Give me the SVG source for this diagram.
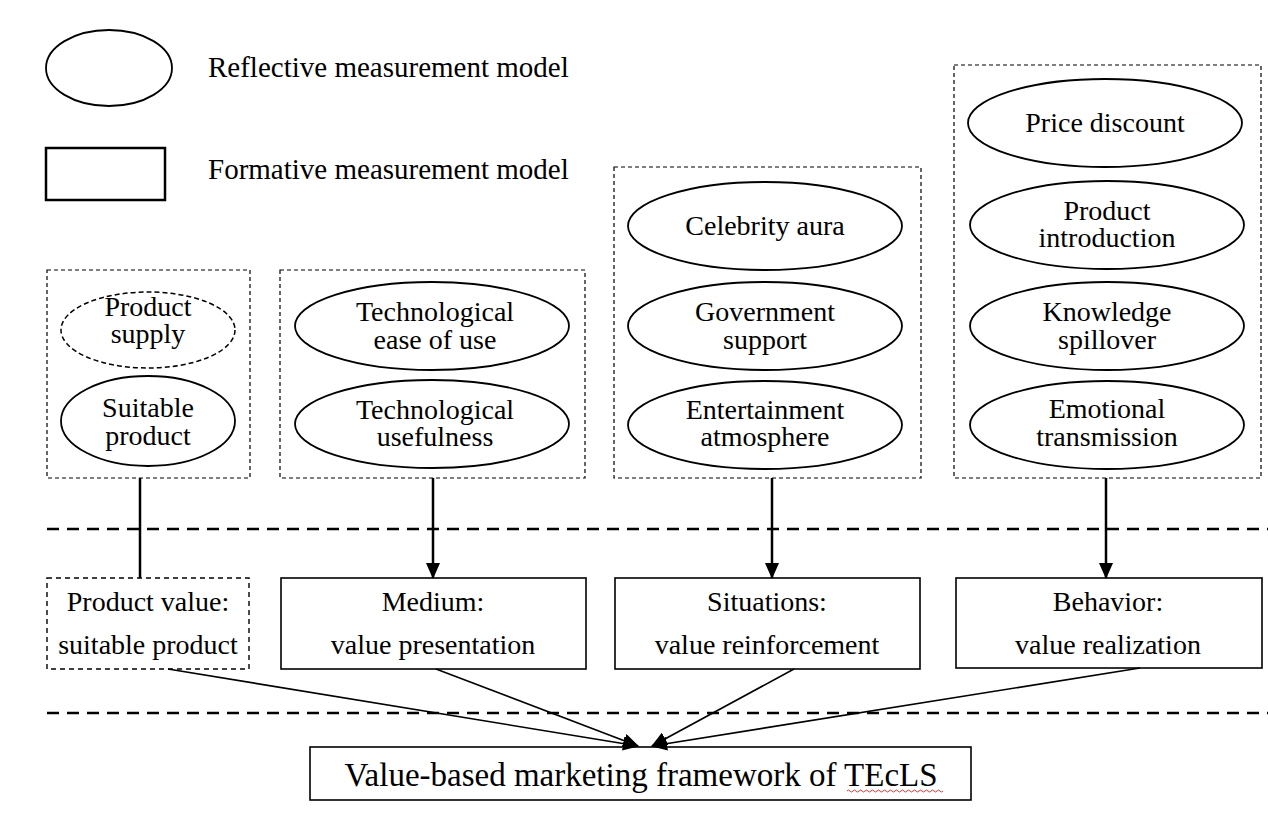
<svg xmlns="http://www.w3.org/2000/svg" width="1268" height="833" viewBox="0 0 1268 833">
<defs>
<marker id="ah" markerWidth="16" markerHeight="14" refX="15" refY="7" orient="auto" markerUnits="userSpaceOnUse">
<path d="M0,0 L16,7 L0,14 Z" fill="#000"/>
</marker>
<style>
text{font-family:"Liberation Serif","Times New Roman",serif;fill:#000;text-anchor:middle;}
.t{font-size:28px;}
.lg{font-size:29px;text-anchor:start;}
.bt{font-size:33px;}
.el{fill:#fff;stroke:#000;stroke-width:1.8;}
.eld{fill:#fff;stroke:#000;stroke-width:1.5;stroke-dasharray:5,3;}
.grp{fill:none;stroke:#000;stroke-width:1.2;stroke-dasharray:4,3;}
.box{fill:#fff;stroke:#000;stroke-width:1.6;}
.boxd{fill:#fff;stroke:#000;stroke-width:1.4;stroke-dasharray:5,4;}
.sep{stroke:#000;stroke-width:2.5;stroke-dasharray:12,8;fill:none;}
.v{stroke:#000;stroke-width:2.5;fill:none;}
.d{stroke:#000;stroke-width:1.6;fill:none;}
</style>
</defs>
<rect width="1268" height="833" fill="#fff"/>

<g id="legend">
<ellipse class="el" cx="109" cy="68" rx="63" ry="38"/>
<text class="lg" x="208" y="77">Reflective measurement model</text>
<rect x="46" y="148" width="119" height="52" fill="#fff" stroke="#000" stroke-width="2.5"/>
<text class="lg" x="208" y="179">Formative measurement model</text>
</g>

<g id="separators">
<line class="sep" x1="47" y1="529" x2="1268" y2="529"/>
<line class="sep" x1="47" y1="713" x2="1268" y2="713"/>
</g>

<g id="group-product">
<rect class="grp" x="47" y="270" width="203" height="208"/>
<g id="product-supply">
<ellipse class="eld" cx="148" cy="330" rx="87" ry="38"/>
<text class="t" x="148" y="316">Product</text>
<text class="t" x="148" y="343">supply</text>
</g>
<g id="suitable-product">
<ellipse class="el" cx="148" cy="421" rx="87" ry="45"/>
<text class="t" x="148" y="417">Suitable</text>
<text class="t" x="148" y="445">product</text>
</g>
</g>

<g id="group-medium">
<rect class="grp" x="280" y="270" width="305" height="208"/>
<g id="tech-ease">
<ellipse class="el" cx="432" cy="326" rx="137" ry="44"/>
<text class="t" x="435" y="321">Technological</text>
<text class="t" x="435" y="349">ease of use</text>
</g>
<g id="tech-usefulness">
<ellipse class="el" cx="432" cy="424" rx="137" ry="44"/>
<text class="t" x="435" y="419">Technological</text>
<text class="t" x="435" y="446">usefulness</text>
</g>
</g>

<g id="group-situations">
<rect class="grp" x="614" y="167" width="307" height="311"/>
<g id="celebrity-aura">
<ellipse class="el" cx="765" cy="226" rx="137" ry="44"/>
<text class="t" x="765" y="235">Celebrity aura</text>
</g>
<g id="government-support">
<ellipse class="el" cx="765" cy="326" rx="137" ry="44"/>
<text class="t" x="765" y="321">Government</text>
<text class="t" x="765" y="349">support</text>
</g>
<g id="entertainment-atmosphere">
<ellipse class="el" cx="765" cy="425" rx="137" ry="44"/>
<text class="t" x="765" y="419">Entertainment</text>
<text class="t" x="765" y="446">atmosphere</text>
</g>
</g>

<g id="group-behavior">
<rect class="grp" x="954" y="65" width="307" height="413"/>
<g id="price-discount">
<ellipse class="el" cx="1105" cy="123" rx="137" ry="44"/>
<text class="t" x="1105" y="132">Price discount</text>
</g>
<g id="product-introduction">
<ellipse class="el" cx="1107" cy="225" rx="137" ry="44"/>
<text class="t" x="1107" y="220">Product</text>
<text class="t" x="1107" y="247">introduction</text>
</g>
<g id="knowledge-spillover">
<ellipse class="el" cx="1107" cy="326" rx="137" ry="44"/>
<text class="t" x="1107" y="321">Knowledge</text>
<text class="t" x="1107" y="349">spillover</text>
</g>
<g id="emotional-transmission">
<ellipse class="el" cx="1107" cy="425" rx="137" ry="44"/>
<text class="t" x="1107" y="418">Emotional</text>
<text class="t" x="1107" y="446">transmission</text>
</g>
</g>

<g id="product-value">
<rect class="boxd" x="47" y="578" width="202" height="91"/>
<text class="t" x="148" y="611">Product value:</text>
<text class="t" x="148" y="654">suitable product</text>
</g>
<g id="medium">
<rect class="box" x="281" y="578" width="305" height="91"/>
<text class="t" x="433" y="611">Medium:</text>
<text class="t" x="433" y="654">value presentation</text>
</g>
<g id="situations">
<rect class="box" x="615" y="578" width="305" height="91"/>
<text class="t" x="767" y="611">Situations:</text>
<text class="t" x="767" y="654">value reinforcement</text>
</g>
<g id="behavior">
<rect class="box" x="956" y="578" width="306" height="90"/>
<text class="t" x="1108" y="611">Behavior:</text>
<text class="t" x="1108" y="654">value realization</text>
</g>

<g id="framework">
<rect class="box" x="310" y="747" width="661" height="53"/>
<text class="bt" x="641" y="786">Value-based marketing framework of TEcLS</text>
<path d="M847,791 q1.5,-2 3,0 t3,0 t3,0 t3,0 t3,0 t3,0 t3,0 t3,0 t3,0 t3,0 t3,0 t3,0 t3,0 t3,0 t3,0 t3,0 t3,0 t3,0 t3,0 t3,0 t3,0 t3,0 t3,0 t3,0 t3,0 t3,0 t3,0 t3,0 t3,0 t3,0 t3,0 t3,0" fill="none" stroke="#e02020" stroke-width="0.9"/>
</g>

<g id="connectors">
<line class="v" x1="140" y1="478" x2="140" y2="578"/>
<line class="v" x1="433" y1="478" x2="433" y2="578" marker-end="url(#ah)"/>
<line class="v" x1="772" y1="478" x2="772" y2="578" marker-end="url(#ah)"/>
<line class="v" x1="1106" y1="478" x2="1106" y2="578" marker-end="url(#ah)"/>
<line class="d" x1="168" y1="669" x2="638" y2="746" marker-end="url(#ah)"/>
<line class="d" x1="436" y1="669" x2="638" y2="746" marker-end="url(#ah)"/>
<line class="d" x1="794" y1="669" x2="652" y2="746" marker-end="url(#ah)"/>
<line class="d" x1="1140" y1="668" x2="652" y2="746" marker-end="url(#ah)"/>
</g>
</svg>
